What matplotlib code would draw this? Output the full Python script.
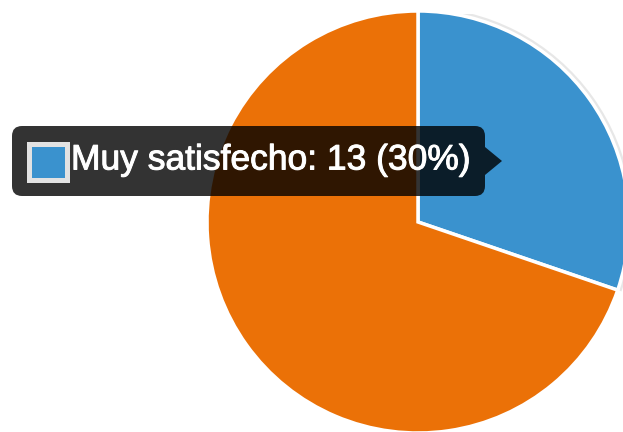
import matplotlib.pyplot as plt
import matplotlib.patheffects as pe
from matplotlib.patches import FancyBboxPatch, Rectangle, Polygon, Wedge

# datos de la encuesta
labels = ["Muy satisfecho", "Satisfecho"]
values = [13, 30]
colors = ["#3a92ce", "#eb7107"]

W, H = 623, 432
TOP = 14  # el área del gráfico empieza un poco por debajo del borde superior
fig = plt.figure(figsize=(W / 100, H / 100), dpi=100)
ax = fig.add_axes([0, 0, 1, (H - TOP) / H])

wedges, _ = ax.pie(values, colors=colors, startangle=90, counterclock=False,
                   center=(418, 210), radius=211, explode=[0.03, 0],
                   wedgeprops=dict(edgecolor="white", linewidth=2.5),
                   frame=True)
ax.set_xlim(0, W)
ax.set_ylim(0, H - TOP)
ax.set_aspect("equal")
ax.axis("off")

# sombra del sector resaltado
hl = wedges[0]
shadow = Wedge(hl.center, hl.r + 4, hl.theta1, hl.theta2, facecolor="#d8d8d8",
               edgecolor="none", alpha=0.6, zorder=hl.get_zorder() - 0.5)
ax.add_patch(shadow)

# tooltip (coordenadas de la figura en píxeles, y hacia arriba)
tip = fig.add_axes([0, 0, 1, 1])
tip.set_xlim(0, W)
tip.set_ylim(0, H)
tip.axis("off")
tip.patch.set_alpha(0)

total = sum(values)
pct = round(values[0] / total * 100)
box = FancyBboxPatch((12, H - 196), 473, 70, boxstyle="round,pad=0,rounding_size=10",
                     facecolor="black", edgecolor="none", alpha=0.8, zorder=5)
tip.add_patch(box)
tip.add_patch(Polygon([(485, H - 147), (502, H - 161), (485, H - 175)], closed=True,
                      facecolor="black", edgecolor="none", alpha=0.8, zorder=5))
tip.add_patch(Rectangle((29, H - 179.5), 38, 36, facecolor=colors[0], edgecolor="#e2e2e2",
                        linewidth=3.6, zorder=6))
tip.text(71, H - 160, f"{labels[0]}: {values[0]} ({pct}%)", color="white",
         fontsize=25.5, family="Liberation Sans", va="center", ha="left", zorder=7,
         path_effects=[pe.withStroke(linewidth=0.7, foreground="white")])

fig.savefig("out.png", dpi=100)
